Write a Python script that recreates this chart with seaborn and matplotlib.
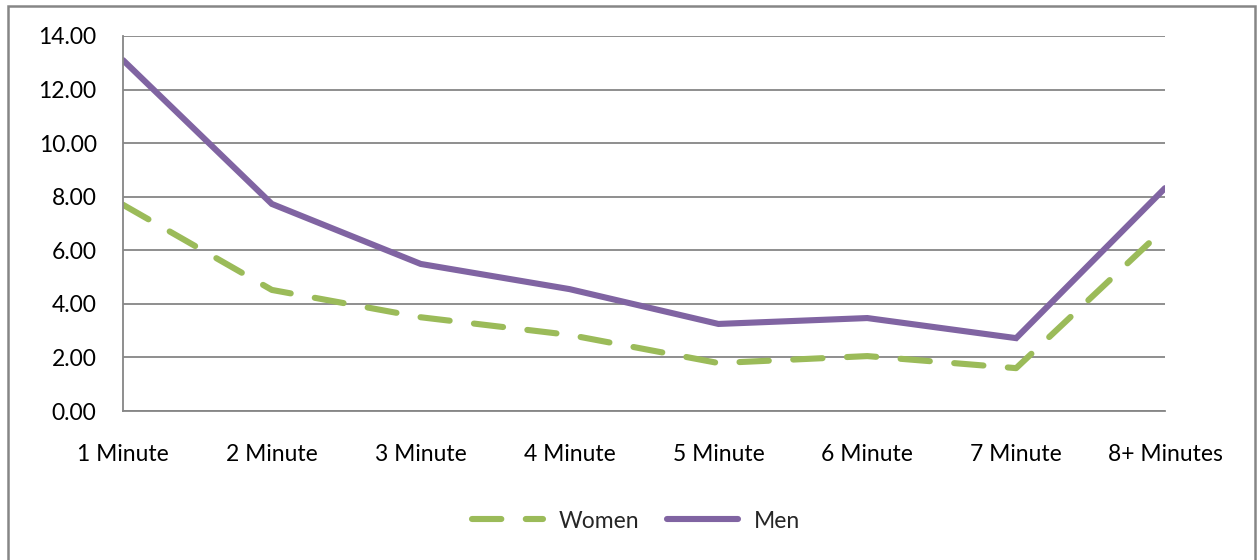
import matplotlib
matplotlib.use("Agg")
import matplotlib.pyplot as plt
import seaborn as sns
import pandas as pd
from matplotlib.patches import Rectangle

categories = ["1 Minute", "2 Minute", "3 Minute", "4 Minute",
              "5 Minute", "6 Minute", "7 Minute", "8+ Minutes"]
women = [7.70, 4.52, 3.50, 2.84, 1.79, 2.05, 1.60, 6.83]
men = [13.10, 7.73, 5.49, 4.55, 3.25, 3.47, 2.72, 8.32]
y_ticks = [0, 2, 4, 6, 8, 10, 12, 14]

sns.set_theme(style="white")
plt.rcParams["font.family"] = ["Lato", "DejaVu Sans"]

df = pd.DataFrame({
    "pos": list(range(len(categories))) * 2,
    "value": women + men,
    "series": ["Women"] * len(women) + ["Men"] * len(men),
})

fig = plt.figure(figsize=(12.57, 5.60), dpi=100)
ax = fig.add_axes([123 / 1257, 1 - 411 / 560, (1165 - 123) / 1257, (411 - 36) / 560])

lw = 4.4
dash = (4.8, 4.0)
palette = {"Women": "#9BBB59", "Men": "#8064A2"}
sns.lineplot(data=df, x="pos", y="value", hue="series", style="series",
             palette=palette, dashes={"Women": dash, "Men": ""},
             linewidth=lw, ax=ax, legend=False)
for line in ax.get_lines():
    line.set_solid_capstyle("round")
    line.set_dash_capstyle("round")
    line.set_solid_joinstyle("miter")

grid_c = "#868686"
fs = 16.5
ax.set_xlim(0, len(categories) - 1)
ax.set_ylim(0, 14)
ax.set_yticks(y_ticks)
ax.set_yticklabels([f"{v:.2f}" for v in y_ticks])
ax.set_xticks(range(len(categories)))
ax.set_xticklabels(categories)
ax.yaxis.grid(True, color=grid_c, linewidth=1.3)
ax.set_axisbelow(True)
ax.set_xlabel("")
ax.set_ylabel("")
for side in ("top", "right"):
    ax.spines[side].set_visible(False)
for side in ("left", "bottom"):
    ax.spines[side].set_color(grid_c)
    ax.spines[side].set_linewidth(1.3)
ax.tick_params(axis="both", which="major", length=6, width=1.3, color=grid_c,
               direction="out", labelsize=fs, labelcolor="#000000")
ax.tick_params(axis="x", pad=18)
ax.tick_params(axis="y", pad=13)

handles = [plt.Line2D([], [], color=palette["Women"], linewidth=lw,
                      dashes=dash, dash_capstyle="round"),
           plt.Line2D([], [], color=palette["Men"], linewidth=lw,
                      solid_capstyle="round")]
fig.legend(handles, ["Women", "Men"], loc="center", bbox_to_anchor=(636 / 1257, 1 - 521 / 560),
           ncol=2, frameon=False, fontsize=fs, handlelength=3.1, handletextpad=0.7,
           columnspacing=1.2)

fig.patches.append(Rectangle((8 / 1257, -0.05), (1255 - 8) / 1257, 1.05 - 6 / 560,
                             transform=fig.transFigure, fill=False,
                             edgecolor="#868686", linewidth=1.8))

fig.savefig("out.png", dpi=100)
